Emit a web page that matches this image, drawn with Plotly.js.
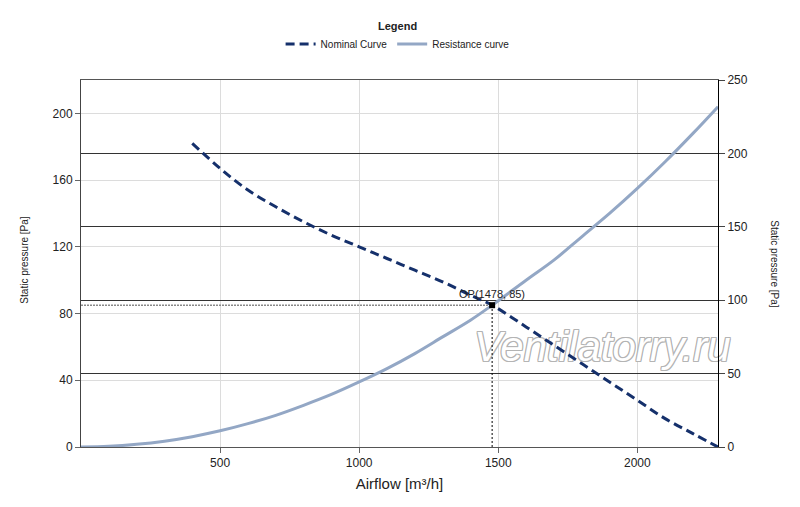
<!DOCTYPE html>
<html>
<head>
<meta charset="utf-8">
<script src="https://cdn.plot.ly/plotly-3.0.1.min.js"></script>
<style>html,body{margin:0;padding:0;background:#fff;}#chart{width:800px;height:507px;}</style>
</head>
<body>
<div id="chart"></div>
<script>
// Nominal fan curve (airflow m3/h, static pressure Pa)
var nominalX = [400, 500, 600, 700, 800, 900, 1000, 1100, 1200, 1300, 1400, 1478, 1600, 1700, 1800, 1900, 2000, 2100, 2200, 2290];
var nominalY = [182, 167, 154, 144, 135, 127, 120, 113, 106, 99, 91, 85, 72, 61, 50, 39, 28, 17, 8, 0];

// Resistance curve
var resistX = [0, 100, 200, 300, 400, 500, 600, 700, 800, 900, 1000, 1100, 1200, 1300, 1400, 1478, 1600, 1700, 1800, 1900, 2000, 2100, 2200, 2290];
var resistY = [0, 0.4, 1.6, 3.5, 6.2, 9.7, 14, 19, 25, 31.5, 39, 47, 56, 66, 76, 85, 100, 112, 126, 140, 155, 171, 188, 204];

// Operating point
var opX = 1478;
var opY = 85;
var opLabel = "OP(1478, 85)";

var xTicks = [500, 1000, 1500, 2000];
var yLeftTicks = [0, 40, 80, 120, 160, 200];
var yRightTicks = [0, 50, 100, 150, 200, 250];

var FONT = "Liberation Sans, Arial, sans-serif";
var WM = "#b4b4b4";

var data = [
  {
    x: [1874], y: [58], mode: "text", text: ["Ventilatorry.ru"],
    textfont: {family: FONT, size: 42, style: "italic", color: "#ffffff",
      shadow: "1px 0 0 " + WM + ", -1px 0 0 " + WM + ", 0 1px 0 " + WM + ", 0 -1px 0 " + WM + ", 1px 1px 0 " + WM + ", -1px -1px 0 " + WM + ", 1px -1px 0 " + WM + ", -1px 1px 0 " + WM},
    showlegend: false, hoverinfo: "skip", cliponaxis: false
  },
  {
    x: [0, opX], y: [opY, opY], mode: "lines",
    line: {color: "#8a8a8a", width: 1.5, dash: "2px,1px"},
    showlegend: false, hoverinfo: "skip"
  },
  {
    x: [opX, opX], y: [0, opY], mode: "lines",
    line: {color: "#000000", width: 1, dash: "2px,2px"},
    showlegend: false, hoverinfo: "skip"
  },
  {
    x: nominalX, y: nominalY, mode: "lines", name: "Nominal Curve",
    line: {color: "#15306b", width: 3, dash: "9px,5px", shape: "spline"}
  },
  {
    x: resistX, y: resistY, mode: "lines", name: "Resistance curve",
    line: {color: "#93a7c5", width: 3, shape: "spline"}
  },
  {
    x: [opX], y: [opY], mode: "markers",
    marker: {symbol: "square", size: 6, color: "#000000"},
    showlegend: false, hoverinfo: "skip"
  }
];

var layout = {
  width: 800, height: 507,
  margin: {l: 81, r: 82, t: 80, b: 60},
  paper_bgcolor: "#ffffff", plot_bgcolor: "#ffffff",
  font: {family: FONT, size: 12, color: "#222"},
  showlegend: true,
  legend: {
    orientation: "h", xref: "container", yref: "container",
    x: 0.497, xanchor: "center", y: 0.97, yanchor: "top",
    font: {family: FONT, size: 10, color: "#222"},
    title: {text: "<b>Legend</b>", side: "top center", font: {family: FONT, size: 11, color: "#222"}},
    itemwidth: 30, tracegroupgap: 0
  },
  xaxis: {
    range: [0, 2290], tickvals: xTicks, ticktext: xTicks.map(String),
    showgrid: true, gridcolor: "#dcdcdc", gridwidth: 1,
    showline: true, linecolor: "#555", linewidth: 1, mirror: true,
    ticks: "outside", ticklen: 5, tickcolor: "#666",
    zeroline: false,
    tickfont: {family: FONT, size: 12, color: "#222"},
    title: {text: "Airflow [m³/h]", font: {family: FONT, size: 15, color: "#222"}, standoff: 9}
  },
  yaxis: {
    range: [0, 220], tickvals: yLeftTicks, ticktext: yLeftTicks.map(String),
    showgrid: true, gridcolor: "#dcdcdc", gridwidth: 1,
    showline: true, linecolor: "#444", linewidth: 1,
    ticks: "outside", ticklen: 5, tickcolor: "#666",
    zeroline: false,
    tickfont: {family: FONT, size: 12, color: "#222"}
  },
  yaxis2: {
    range: [0, 250], tickvals: yRightTicks, ticktext: yRightTicks.map(String),
    overlaying: "y", side: "right",
    showgrid: true, gridcolor: "#333", gridwidth: 1,
    showline: true, linecolor: "#000", linewidth: 1,
    ticks: "outside", ticklen: 6, tickcolor: "#444",
    zeroline: false,
    tickfont: {family: FONT, size: 12, color: "#222"}
  },
  annotations: [
    {text: opLabel, x: opX, y: opY, xref: "x", yref: "y", showarrow: false,
     yshift: 11, font: {family: FONT, size: 11, color: "#222"}},
    {text: "Static pressure [Pa]", xref: "paper", yref: "paper", x: -0.1, y: 0.51,
     textangle: -90, showarrow: false, font: {family: FONT, size: 10, color: "#222"}},
    {text: "Static pressure [Pa]", xref: "paper", yref: "paper", x: 1.1, y: 0.5,
     textangle: 90, showarrow: false, font: {family: FONT, size: 10, color: "#222"}}
  ]
};

// a dummy invisible trace to activate yaxis2
data.push({x: [0], y: [0], yaxis: "y2", mode: "markers", marker: {opacity: 0}, showlegend: false, hoverinfo: "skip"});

Plotly.newPlot("chart", data, layout, {staticPlot: true, displayModeBar: false});
</script>
</body>
</html>
